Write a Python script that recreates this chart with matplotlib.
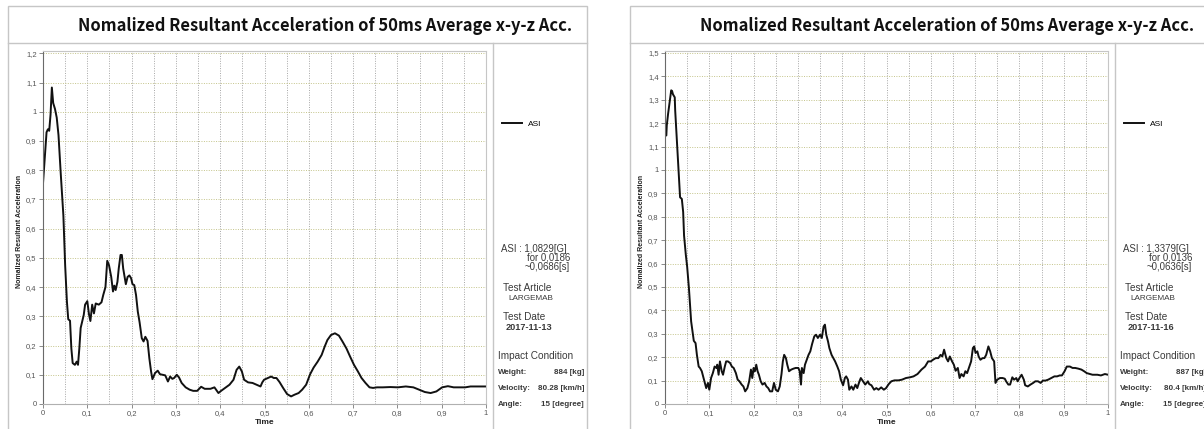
import numpy as np
import matplotlib.pyplot as plt
from matplotlib.patches import Rectangle
from matplotlib.lines import Line2D
from matplotlib.ticker import FuncFormatter, MultipleLocator

# ---- data ----
left_t = [0, .004, .008, .011, .014, .017, .020, .023, .027, .031,
          .035, .040, .046, .050, .054, .057, .061, .064, .067, .072,
          .076, .079, .082, .085, .092, .095, .100, .104, .107, .111,
          .115, .119, .126, .132, .136, .141, .145, .149, .154, .158,
          .161, .164, .168, .171, .175, .178, .181, .187, .191, .195,
          .199, .202, .206, .210, .214, .218, .223, .227, .231, .236,
          .240, .244, .247, .253, .259, .264, .270, .276, .282, .287,
          .292, .296, .302, .307, .313, .322, .331, .339, .348, .357,
          .365, .378, .387, .396, .402, .411, .421, .430, .437, .443,
          .449, .454, .463, .473, .482, .491, .495, .499, .508, .515,
          .521, .527, .534, .542, .551, .560, .568, .577, .585, .594,
          .603, .611, .620, .629, .636, .642, .650, .659, .668, .676,
          .685, .693, .702, .711, .719, .728, .737, .745, .754, .767,
          .784, .801, .819, .836, .849, .862, .875, .888, .901, .914,
          .927, .940, .953, .965, .983, 1.0]
left_asi = [0.755, 0.84, 0.93, 0.94, 0.935, 0.99, 1.083, 1.03, 1.01, 0.98,
            0.92, 0.79, 0.645, 0.475, 0.35, 0.29, 0.285, 0.19, 0.14, 0.134,
            0.145, 0.134, 0.19, 0.26, 0.305, 0.34, 0.352, 0.305, 0.284, 0.34,
            0.31, 0.344, 0.34, 0.348, 0.373, 0.40, 0.49, 0.475, 0.435, 0.385,
            0.405, 0.39, 0.418, 0.464, 0.51, 0.51, 0.464, 0.41, 0.435, 0.44,
            0.43, 0.41, 0.407, 0.373, 0.316, 0.28, 0.225, 0.214, 0.23, 0.216,
            0.157, 0.111, 0.085, 0.106, 0.114, 0.102, 0.1, 0.098, 0.077, 0.094,
            0.086, 0.089, 0.1, 0.091, 0.072, 0.057, 0.049, 0.045, 0.045, 0.059,
            0.052, 0.052, 0.057, 0.0375, 0.045, 0.055, 0.066, 0.083, 0.117, 0.128,
            0.111, 0.083, 0.074, 0.072, 0.066, 0.06, 0.074, 0.083, 0.089, 0.094,
            0.089, 0.089, 0.075, 0.055, 0.034, 0.026, 0.032, 0.0375, 0.049, 0.066,
            0.102, 0.125, 0.145, 0.168, 0.197, 0.219, 0.236, 0.242, 0.234, 0.214,
            0.19, 0.163, 0.134, 0.111, 0.089, 0.072, 0.057, 0.055, 0.057, 0.057,
            0.058, 0.057, 0.06, 0.057, 0.049, 0.041, 0.0375, 0.043, 0.057, 0.061,
            0.057, 0.057, 0.057, 0.06, 0.06, 0.06]

right_t = [0.000, 0.003, 0.004, 0.007, 0.010, 0.014, 0.016, 0.018, 0.022, 0.023,
           0.026, 0.028, 0.031, 0.034, 0.038, 0.041, 0.043, 0.047, 0.050, 0.054,
           0.059, 0.065, 0.069, 0.072, 0.076, 0.079, 0.083, 0.088, 0.093, 0.097,
           0.100, 0.104, 0.108, 0.112, 0.116, 0.118, 0.121, 0.124, 0.128, 0.131,
           0.135, 0.138, 0.142, 0.147, 0.151, 0.155, 0.160, 0.164, 0.168, 0.173,
           0.177, 0.181, 0.186, 0.190, 0.194, 0.197, 0.200, 0.203, 0.206, 0.209,
           0.212, 0.216, 0.220, 0.225, 0.229, 0.233, 0.237, 0.242, 0.246, 0.250,
           0.255, 0.259, 0.263, 0.266, 0.269, 0.273, 0.276, 0.280, 0.285, 0.290,
           0.295, 0.301, 0.304, 0.307, 0.309, 0.313, 0.316, 0.320, 0.324, 0.328,
           0.332, 0.337, 0.341, 0.345, 0.350, 0.354, 0.358, 0.361, 0.364, 0.368,
           0.371, 0.376, 0.380, 0.384, 0.389, 0.393, 0.397, 0.402, 0.406, 0.409,
           0.413, 0.416, 0.421, 0.425, 0.430, 0.434, 0.439, 0.442, 0.447, 0.452,
           0.458, 0.461, 0.466, 0.472, 0.477, 0.482, 0.488, 0.494, 0.499, 0.505,
           0.511, 0.518, 0.527, 0.535, 0.544, 0.553, 0.561, 0.570, 0.579, 0.587,
           0.594, 0.600, 0.605, 0.611, 0.617, 0.622, 0.626, 0.630, 0.635, 0.639,
           0.643, 0.648, 0.652, 0.656, 0.661, 0.665, 0.669, 0.674, 0.678, 0.682,
           0.687, 0.691, 0.695, 0.698, 0.701, 0.705, 0.708, 0.712, 0.717, 0.721,
           0.725, 0.730, 0.734, 0.738, 0.743, 0.746, 0.750, 0.756, 0.762, 0.767,
           0.770, 0.775, 0.779, 0.784, 0.788, 0.793, 0.796, 0.801, 0.805, 0.810,
           0.813, 0.819, 0.825, 0.831, 0.836, 0.842, 0.848, 0.853, 0.859, 0.865,
           0.872, 0.879, 0.885, 0.891, 0.896, 0.902, 0.907, 0.914, 0.920, 0.926,
           0.933, 0.940, 0.946, 0.952, 0.959, 0.965, 0.976, 0.984, 0.993, 1.000]
right_asi = [1.154, 1.147, 1.19, 1.24, 1.283, 1.34, 1.337, 1.323, 1.31, 1.254,
             1.154, 1.083, 0.983, 0.883, 0.876, 0.82, 0.72, 0.637, 0.587, 0.495,
             0.353, 0.27, 0.26, 0.21, 0.16, 0.154, 0.14, 0.104, 0.068, 0.09,
             0.061, 0.111, 0.132, 0.16, 0.154, 0.168, 0.125, 0.182, 0.14, 0.125,
             0.16, 0.182, 0.182, 0.175, 0.16, 0.154, 0.132, 0.104, 0.097, 0.083,
             0.075, 0.054, 0.068, 0.097, 0.147, 0.111, 0.154, 0.14, 0.168, 0.14,
             0.125, 0.097, 0.083, 0.09, 0.075, 0.068, 0.054, 0.054, 0.09, 0.061,
             0.054, 0.075, 0.128, 0.182, 0.21, 0.196, 0.168, 0.14, 0.147, 0.151,
             0.154, 0.154, 0.14, 0.083, 0.154, 0.132, 0.168, 0.189, 0.21, 0.225,
             0.256, 0.289, 0.296, 0.282, 0.296, 0.282, 0.331, 0.339, 0.296, 0.267,
             0.239, 0.21, 0.196, 0.182, 0.16, 0.14, 0.104, 0.08, 0.111, 0.118,
             0.104, 0.061, 0.075, 0.061, 0.083, 0.068, 0.097, 0.111, 0.097, 0.083,
             0.097, 0.085, 0.08, 0.061, 0.068, 0.061, 0.071, 0.061, 0.068, 0.085,
             0.097, 0.101, 0.101, 0.104, 0.111, 0.114, 0.118, 0.128, 0.147, 0.16,
             0.182, 0.182, 0.189, 0.196, 0.196, 0.21, 0.203, 0.232, 0.196, 0.182,
             0.203, 0.182, 0.168, 0.142, 0.154, 0.111, 0.128, 0.118, 0.14, 0.132,
             0.16, 0.182, 0.239, 0.246, 0.218, 0.225, 0.203, 0.189, 0.196, 0.196,
             0.21, 0.246, 0.225, 0.196, 0.182, 0.09, 0.104, 0.111, 0.111, 0.108,
             0.097, 0.083, 0.083, 0.114, 0.104, 0.111, 0.097, 0.114, 0.125, 0.104,
             0.08, 0.075, 0.083, 0.09, 0.097, 0.097, 0.09, 0.1, 0.1, 0.104,
             0.111, 0.118, 0.118, 0.122, 0.122, 0.14, 0.16, 0.16, 0.154, 0.154,
             0.151, 0.147, 0.14, 0.132, 0.128, 0.125, 0.125, 0.122, 0.128, 0.125]

title = "Nomalized Resultant Acceleration of 50ms Average x-y-z Acc."
ylabel = "Nomalized Resultant Acceleration"

panels = [
    dict(t=left_t, v=left_asi, ymax=1.2, asi="1,0829", t0="0,0186", t1="0,0686",
         date="2017-11-13", weight="884 [kg]", vel="80.28 [km/h]", angle="15 [degree]"),
    dict(t=right_t, v=right_asi, ymax=1.5, asi="1,3379", t0="0,0136", t1="0,0636",
         date="2017-11-16", weight="887 [kg]", vel="80.4 [km/h]", angle="15 [degree]"),
]

W, H = 1204, 429
fig = plt.figure(figsize=(W / 100, H / 100), dpi=100)

def fx(px):
    return px / W

def fy(py):
    return 1 - py / H

small = ['Liberation Sans Narrow', 'Liberation Sans', 'DejaVu Sans']
info = ['Liberation Sans', 'DejaVu Sans']
box_c = '#c6c6c6'
txt_c = '#3a3a3a'
comma = FuncFormatter(lambda v, p: ('%g' % round(v, 1)).replace('.', ','))

for i, p in enumerate(panels):
    ox = 0 if i == 0 else 622

    # outer frame, title strip and info column
    fig.add_artist(Rectangle((fx(8 + ox), fy(440)), fx(579), fy(6) - fy(440),
                             fill=False, ec=box_c, lw=1.0, transform=fig.transFigure))
    fig.add_artist(Line2D([fx(8 + ox), fx(587 + ox)], [fy(43), fy(43)],
                          color=box_c, lw=1.0, transform=fig.transFigure))
    fig.add_artist(Line2D([fx(493 + ox), fx(493 + ox)], [fy(43), fy(440)],
                          color=box_c, lw=1.0, transform=fig.transFigure))
    fig.text(fx(572 + ox), fy(26), title, ha='right', va='center', fontsize=11.9,
             fontweight='bold', family=['Noto Sans CJK KR', 'DejaVu Sans'], color='#111111')

    ax = fig.add_axes([fx(43 + ox), fy(404), fx(443), (404 - 51) / H])
    ax.plot(p['t'], p['v'], color='#111111', lw=1.4, label='ASI')
    ax.set_xlim(0, 1)
    ax.set_ylim(0, p['ymax'] + 0.008)
    ax.xaxis.set_major_locator(MultipleLocator(0.1))
    ax.xaxis.set_minor_locator(MultipleLocator(0.05))
    ax.yaxis.set_major_locator(MultipleLocator(0.1))
    ax.xaxis.set_major_formatter(comma)
    ax.yaxis.set_major_formatter(comma)
    ax.xaxis.grid(True, which='both', ls=(0, (1, 1.5)), color='#a6a6a6', lw=0.7)
    ax.yaxis.grid(True, ls=(0, (1, 1.5)), color='#c4c48a', lw=0.7)
    ax.tick_params(which='major', labelsize=5.5, colors='#777777', labelcolor='#555555',
                   length=3, width=0.6, pad=1.5)
    ax.tick_params(which='minor', length=0)
    for lab in ax.get_xticklabels() + ax.get_yticklabels():
        lab.set_family(small)
    for s in ['top', 'right']:
        ax.spines[s].set_color(box_c)
    ax.spines['left'].set_color('#6a6a6a')
    ax.spines['bottom'].set_color('#b0b0b0')
    for s in ax.spines.values():
        s.set_linewidth(0.8)

    ax.set_xlabel('Time', fontsize=6, fontweight='bold', family=small, color='#222222')
    ax.xaxis.set_label_coords(0.5, -0.052)
    ax.xaxis.label.set_va('center')
    ax.set_ylabel(ylabel, fontsize=5.0, fontweight='bold', family=small, color='#222222')
    ax.yaxis.set_label_coords(-0.052, 0.49)
    ax.yaxis.label.set_va('center')

    ax.legend(loc='center left', bbox_to_anchor=(fx(502 + ox), fy(124)),
              bbox_transform=fig.transFigure, frameon=False,
              handlelength=2.4, handletextpad=0.7, borderpad=0, borderaxespad=0,
              prop=dict(family=info, size=6))

    # side information block
    kw = dict(color=txt_c, va='center', family=info, transform=fig.transFigure)
    fig.text(fx(501 + ox), fy(249), 'ASI : %s[G]' % p['asi'], fontsize=6.9, **kw)
    fig.text(fx(570 + ox), fy(258), 'for %s' % p['t0'], fontsize=6.9, ha='right', **kw)
    fig.text(fx(570 + ox), fy(267), '~%s[s]' % p['t1'], fontsize=6.9, ha='right', **kw)
    fig.text(fx(503 + ox), fy(288), 'Test Article', fontsize=7.2, **kw)
    fig.text(fx(508 + ox), fy(299), 'LARGEMAB', fontsize=5.9, **kw)
    fig.text(fx(503 + ox), fy(317), 'Test Date', fontsize=7.2, **kw)
    fig.text(fx(506 + ox), fy(328), p['date'], fontsize=6.6, fontweight='bold', **kw)
    fig.text(fx(498 + ox), fy(356), 'Impact Condition', fontsize=7.2, **kw)
    fig.text(fx(498 + ox), fy(372), 'Weight:', fontsize=5.8, fontweight='bold', **kw)
    fig.text(fx(584 + ox), fy(372), p['weight'], fontsize=5.8, fontweight='bold', ha='right', **kw)
    fig.text(fx(498 + ox), fy(389), 'Velocity:', fontsize=5.8, fontweight='bold', **kw)
    fig.text(fx(584 + ox), fy(389), p['vel'], fontsize=5.8, fontweight='bold', ha='right', **kw)
    fig.text(fx(498 + ox), fy(405), 'Angle:', fontsize=5.8, fontweight='bold', **kw)
    fig.text(fx(584 + ox), fy(405), p['angle'], fontsize=5.8, fontweight='bold', ha='right', **kw)

fig.savefig('out.png', dpi=100, facecolor='white')
